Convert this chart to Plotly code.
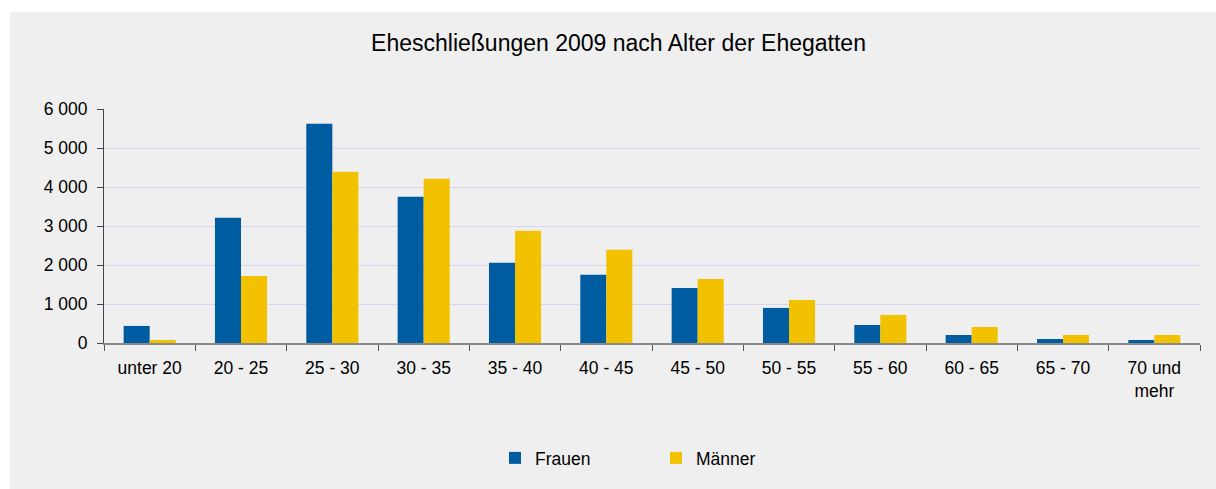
import plotly.graph_objects as go

categories = ["unter 20", "20 - 25", "25 - 30", "30 - 35", "35 - 40", "40 - 45",
              "45 - 50", "50 - 55", "55 - 60", "60 - 65", "65 - 70", "70 und<br>mehr"]
frauen = [437, 3210, 5625, 3750, 2055, 1747, 1413, 899, 462, 205, 103, 77]
maenner = [77, 1721, 4392, 4212, 2877, 2389, 1644, 1104, 719, 411, 205, 205]
y_ticks = [0, 1000, 2000, 3000, 4000, 5000, 6000]
y_ticktext = ["0", "1 000", "2 000", "3 000", "4 000", "5 000", "6 000"]

BG = "#EEEFEE"
FONT = "Liberation Sans, Arial, sans-serif"

fig = go.Figure()
fig.add_trace(go.Bar(name="Frauen", x=categories, y=frauen, marker_color="#005CA0",
                     marker_line_width=0))
fig.add_trace(go.Bar(name="Männer", x=categories, y=maenner, marker_color="#F2C100",
                     marker_line_width=0))

W, H = 1216, 489
L, R, T, B = 104, 1200, 109, 343
pw, ph = R - L, B - T

def px_x(p):
    return (p - L) / pw

def px_y(p):
    return (B - p) / ph

fig.add_shape(type="rect", xref="paper", yref="paper",
              x0=px_x(10), x1=px_x(W + 5), y0=px_y(H + 5), y1=px_y(12),
              fillcolor=BG, line_width=0, layer="below")

fig.update_layout(
    width=W, height=H,
    margin=dict(l=L, r=W - R, t=T, b=H - B, pad=0),
    paper_bgcolor="white",
    plot_bgcolor=BG,
    font=dict(family=FONT, size=17.5, color="#000000"),
    barmode="group", bargap=0.43, bargroupgap=0,
    title=dict(text="Eheschließungen 2009 nach Alter der Ehegatten",
               xref="container", yref="container", x=618.5 / W, y=1 - 43 / H,
               xanchor="center", yanchor="middle",
               font=dict(family=FONT, size=23, color="#000000")),
    showlegend=True,
    legend=dict(orientation="h", x=px_x(495), y=px_y(458), xanchor="left",
                yanchor="middle", entrywidth=116, bgcolor="rgba(0,0,0,0)",
                font=dict(family=FONT, size=17.5, color="#000000")),
    xaxis=dict(showgrid=False, tickson="boundaries", ticks="outside", ticklen=6,
               tickcolor="#555555", showline=True, linecolor="#8A8A8A", linewidth=2,
               ticklabelstandoff=8, fixedrange=True),
    yaxis=dict(range=[0, 6000], tickvals=y_ticks, ticktext=y_ticktext,
               showgrid=True, gridcolor="#D8D5F3", gridwidth=1,
               zeroline=False, showline=True, linecolor="#444444", linewidth=1,
               ticks="outside", ticklen=6, tickcolor="#444444",
               ticklabelstandoff=6, fixedrange=True),
)

fig.write_html(
    "out.html",
    config={"displayModeBar": False},
    post_script="document.body.style.margin='0';document.body.style.overflow='hidden';",
)
